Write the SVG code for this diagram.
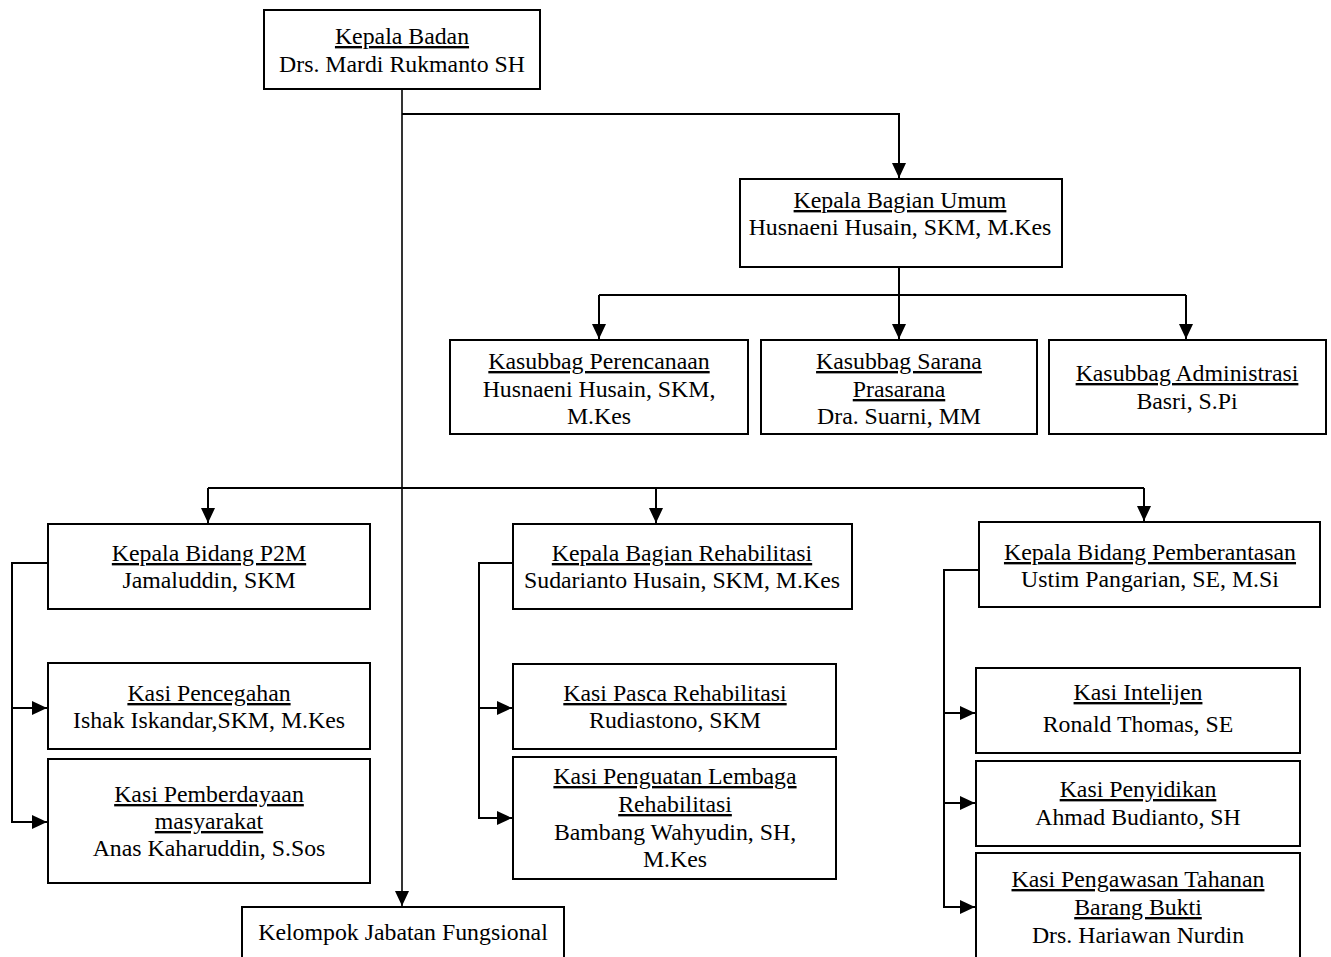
<svg xmlns="http://www.w3.org/2000/svg" width="1331" height="957" viewBox="0 0 1331 957">
<style>
.box{fill:#fff;stroke:#000;stroke-width:2}
.t{font-family:"Liberation Serif","Times New Roman",serif;font-size:23.8px;fill:#000;text-anchor:middle}
.u{text-decoration:underline}
.c{fill:none;stroke:#000;stroke-width:2}
</style>
<defs>
<marker id="ah" markerUnits="userSpaceOnUse" markerWidth="15" markerHeight="14" refX="15" refY="7" orient="auto">
<path d="M0,0 L15,7 L0,14 z" fill="#000"/>
</marker>
</defs>
<rect width="1331" height="957" fill="#fff"/>
<g id="connectors">
<path class="c" style="stroke-width:1.6" d="M402,89 V906" marker-end="url(#ah)"/>
<path class="c" d="M402,114 H899 V178" marker-end="url(#ah)"/>
<path class="c" d="M899,267 V295"/>
<path class="c" d="M599,295 H1186"/>
<path class="c" d="M599,295 V339" marker-end="url(#ah)"/>
<path class="c" d="M899,295 V339" marker-end="url(#ah)"/>
<path class="c" d="M1186,295 V339" marker-end="url(#ah)"/>
<path class="c" d="M208,488 H1144"/>
<path class="c" d="M208,488 V523" marker-end="url(#ah)"/>
<path class="c" d="M656,488 V523" marker-end="url(#ah)"/>
<path class="c" d="M1144,488 V521" marker-end="url(#ah)"/>
<path class="c" d="M48,563 H12 V822 H47" marker-end="url(#ah)"/>
<path class="c" d="M12,708 H47" marker-end="url(#ah)"/>
<path class="c" d="M513,563 H479 V818 H512" marker-end="url(#ah)"/>
<path class="c" d="M479,708 H512" marker-end="url(#ah)"/>
<path class="c" d="M979,570 H944 V907 H975" marker-end="url(#ah)"/>
<path class="c" d="M944,713 H975" marker-end="url(#ah)"/>
<path class="c" d="M944,803 H975" marker-end="url(#ah)"/>
</g>
<g id="kepala-badan">
<rect class="box" x="264" y="10" width="276" height="79"/>
<text class="t u" x="402" y="44">Kepala Badan</text>
<text class="t" x="402" y="72">Drs. Mardi Rukmanto SH</text>
</g>
<g id="kepala-bagian-umum">
<rect class="box" x="740" y="179" width="322" height="88"/>
<text class="t u" x="900" y="208">Kepala Bagian Umum</text>
<text class="t" x="900" y="235">Husnaeni Husain, SKM, M.Kes</text>
</g>
<g id="kasubbag-perencanaan">
<rect class="box" x="450" y="340" width="298" height="94"/>
<text class="t u" x="599" y="369">Kasubbag Perencanaan</text>
<text class="t" x="599" y="397">Husnaeni Husain, SKM,</text>
<text class="t" x="599" y="424">M.Kes</text>
</g>
<g id="kasubbag-sarana">
<rect class="box" x="761" y="340" width="276" height="94"/>
<text class="t u" x="899" y="369">Kasubbag Sarana</text>
<text class="t u" x="899" y="397">Prasarana</text>
<text class="t" x="899" y="424">Dra. Suarni, MM</text>
</g>
<g id="kasubbag-administrasi">
<rect class="box" x="1049" y="340" width="277" height="94"/>
<text class="t u" x="1187" y="381">Kasubbag Administrasi</text>
<text class="t" x="1187" y="409">Basri, S.Pi</text>
</g>
<g id="kepala-bidang-p2m">
<rect class="box" x="48" y="524" width="322" height="85"/>
<text class="t u" x="209" y="561">Kepala Bidang P2M</text>
<text class="t" x="209" y="588">Jamaluddin, SKM</text>
</g>
<g id="kasi-pencegahan">
<rect class="box" x="48" y="663" width="322" height="86"/>
<text class="t u" x="209" y="701">Kasi Pencegahan</text>
<text class="t" x="209" y="728">Ishak Iskandar,SKM, M.Kes</text>
</g>
<g id="kasi-pemberdayaan">
<rect class="box" x="48" y="759" width="322" height="124"/>
<text class="t u" x="209" y="802">Kasi Pemberdayaan</text>
<text class="t u" x="209" y="829">masyarakat</text>
<text class="t" x="209" y="856">Anas Kaharuddin, S.Sos</text>
</g>
<g id="kepala-bagian-rehabilitasi">
<rect class="box" x="513" y="524" width="339" height="85"/>
<text class="t u" x="682" y="561">Kepala Bagian Rehabilitasi</text>
<text class="t" x="682" y="588">Sudarianto Husain, SKM, M.Kes</text>
</g>
<g id="kasi-pasca-rehabilitasi">
<rect class="box" x="513" y="664" width="323" height="85"/>
<text class="t u" x="675" y="701">Kasi Pasca Rehabilitasi</text>
<text class="t" x="675" y="728">Rudiastono, SKM</text>
</g>
<g id="kasi-penguatan">
<rect class="box" x="513" y="757" width="323" height="122"/>
<text class="t u" x="675" y="784">Kasi Penguatan Lembaga</text>
<text class="t u" x="675" y="812">Rehabilitasi</text>
<text class="t" x="675" y="840">Bambang Wahyudin, SH,</text>
<text class="t" x="675" y="867">M.Kes</text>
</g>
<g id="kepala-bidang-pemberantasan">
<rect class="box" x="979" y="522" width="341" height="85"/>
<text class="t u" x="1150" y="560">Kepala Bidang Pemberantasan</text>
<text class="t" x="1150" y="587">Ustim Pangarian, SE, M.Si</text>
</g>
<g id="kasi-intelijen">
<rect class="box" x="976" y="668" width="324" height="85"/>
<text class="t u" x="1138" y="700">Kasi Intelijen</text>
<text class="t" x="1138" y="732">Ronald Thomas, SE</text>
</g>
<g id="kasi-penyidikan">
<rect class="box" x="976" y="761" width="324" height="85"/>
<text class="t u" x="1138" y="797">Kasi Penyidikan</text>
<text class="t" x="1138" y="825">Ahmad Budianto, SH</text>
</g>
<g id="kasi-pengawasan">
<rect class="box" x="976" y="853" width="324" height="120"/>
<text class="t u" x="1138" y="887">Kasi Pengawasan Tahanan</text>
<text class="t u" x="1138" y="915">Barang Bukti</text>
<text class="t" x="1138" y="943">Drs. Hariawan Nurdin</text>
</g>
<g id="kelompok-jabatan-fungsional">
<rect class="box" x="242" y="907" width="322" height="70"/>
<text class="t" x="403" y="940">Kelompok Jabatan Fungsional</text>
</g>
</svg>
